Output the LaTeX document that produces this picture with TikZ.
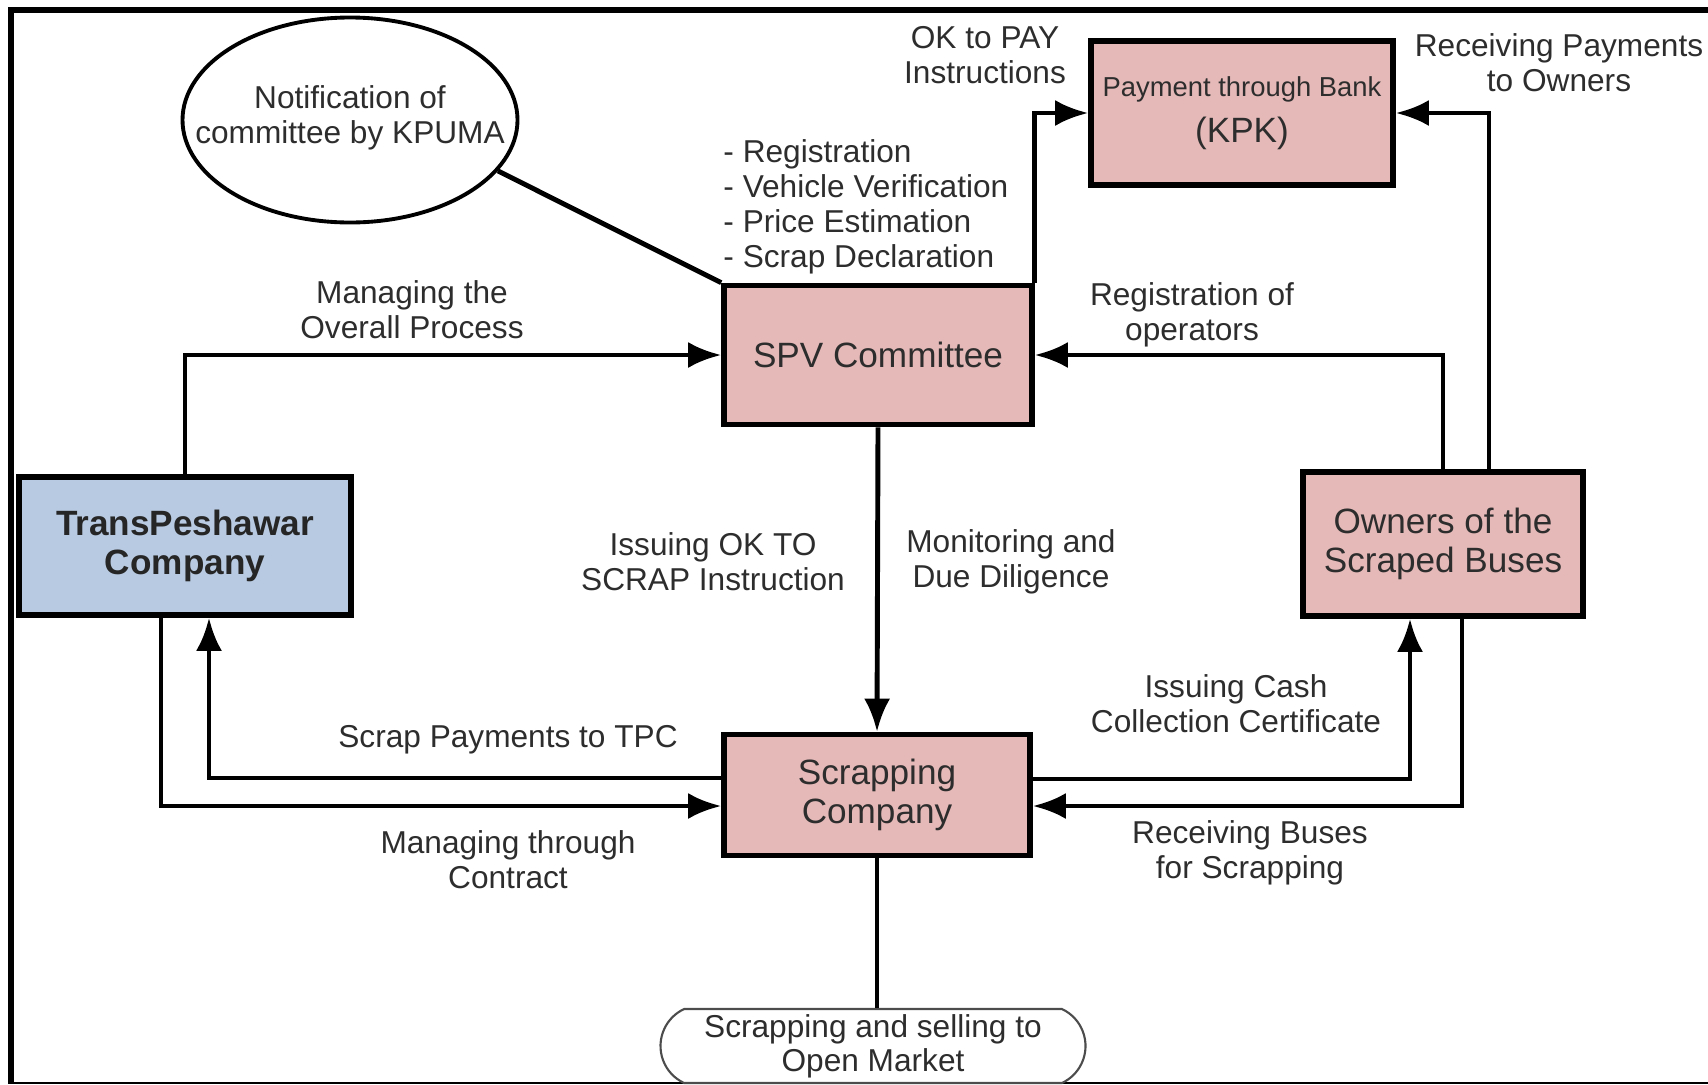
\documentclass[tikz,border=0pt]{standalone}
\usepackage{fontspec}
\setmainfont{Liberation Sans}
\usetikzlibrary{arrows.meta}
\usetikzlibrary{shapes}
\definecolor{boxpink}{RGB}{229,185,184}
\definecolor{boxblue}{RGB}{184,202,225}
\definecolor{inkgray}{RGB}{45,45,45}
\tikzstyle{every picture}=[line width=1.4pt]
\tikzstyle{pinkbox}=[rectangle, draw, fill=boxpink, line width=1.6pt, inner sep=0pt, align=center, text=inkgray, font=\fontsize{10}{11}\selectfont]
\tikzstyle{bluebox}=[pinkbox, fill=boxblue, text=black!85, font=\fontsize{10}{11.2}\selectfont\bfseries]
\tikzstyle{flowlabel}=[inner sep=0pt, align=center, text=inkgray, font=\fontsize{9}{10}\selectfont]
\tikzstyle{endbox}=[rounded rectangle, rounded rectangle arc length=130, draw=black!70, line width=0.6pt, inner sep=0pt, align=center, text=inkgray, font=\fontsize{9}{9.6}\selectfont]

\begin{document}
\begin{tikzpicture}[x=0.1mm, y=-0.1mm, >={Latex[length=3.3mm,width=2.6mm]}]
	\useasboundingbox (0,0) rectangle (1708,1084);

	% frame
	\draw[line width=1.8pt] (1708,10) -- (11,10) -- (11,1084);
	\draw[line width=0.7pt] (8,1083) -- (1708,1083);

	\path (350,120) node[ellipse, draw, line width=1.1pt, minimum width=33.5mm, minimum height=20.5mm] (kpuma) {}
	      (350,118) node[flowlabel] (kpuma_txt) {Notification of\\committee by KPUMA}
	      (878,355) node[pinkbox, minimum width=30.8mm, minimum height=13.9mm] (spv) {SPV Committee}
	      (1242,113) node[pinkbox, minimum width=30.2mm, minimum height=14.4mm] (kpk) {{\fontsize{7.8}{8}\selectfont Payment through Bank}\\[2pt](KPK)}
	      (185,546) node[bluebox, minimum width=33.2mm, minimum height=13.8mm] (tpc) {TransPeshawar\\Company}
	      (1443,544) node[pinkbox, minimum width=28mm, minimum height=14.4mm] (owners) {Owners of the\\Scraped Buses}
	      (877,795) node[pinkbox, minimum width=30.6mm, minimum height=12.1mm] (scrap) {Scrapping\\Company}
	      (873,1046) node[endbox, minimum width=42.5mm, minimum height=7.4mm] (market) {Scrapping and selling to\\Open Market};

	% labels on the connectors
	\path (985,55) node[flowlabel] (oktopay) {OK to PAY\\Instructions}
	      (1559,63) node[flowlabel] (recvpay) {Receiving Payments\\to Owners}
	      (721,207) node[flowlabel, anchor=west, align=left] (tasks) {- Registration\\- Vehicle Verification\\- Price Estimation\\- Scrap Declaration}
	      (412,310) node[flowlabel] (overall) {Managing the\\Overall Process}
	      (1192,315) node[flowlabel] (regops) {Registration of\\operators}
	      (713,562) node[flowlabel] (okscrap) {Issuing OK TO\\SCRAP Instruction}
	      (1011,562) node[flowlabel] (monitor) {Monitoring and\\Due Diligence}
	      (1236,704) node[flowlabel] (cashcert) {Issuing Cash\\Collection Certificate}
	      (508,740) node[flowlabel] (scrappay) {Scrap Payments to TPC}
	      (508,860) node[flowlabel] (contract) {Managing through\\Contract}
	      (1250,853) node[flowlabel] (recvbus) {Receiving Buses\\for Scrapping};

	\draw (kpuma.-19) -- (spv.north west);
	\draw[->] (tpc.north) |- (spv.west);
	\draw[->] (owners.north) |- (spv.east);
	\draw[->] (spv.north east) |- (kpk.west);
	\draw[->] ([xshift=4.6mm]owners.north) |- (kpk.east);
	\draw[->] (spv.south) -- (scrap.north);
	\draw[->] ([yshift=1.7mm]scrap.west) -| ([xshift=2.4mm]tpc.south);
	\draw[->] ([xshift=-2.4mm]tpc.south) |- ([yshift=-1.1mm]scrap.west);
	\draw[->] ([yshift=1.6mm]scrap.east) -| ([xshift=-3.3mm]owners.south);
	\draw[->] ([xshift=1.9mm]owners.south) |- ([yshift=-1.1mm]scrap.east);
	\draw (scrap.south) -- (scrap.south |- market.north);

\end{tikzpicture}
\end{document}
